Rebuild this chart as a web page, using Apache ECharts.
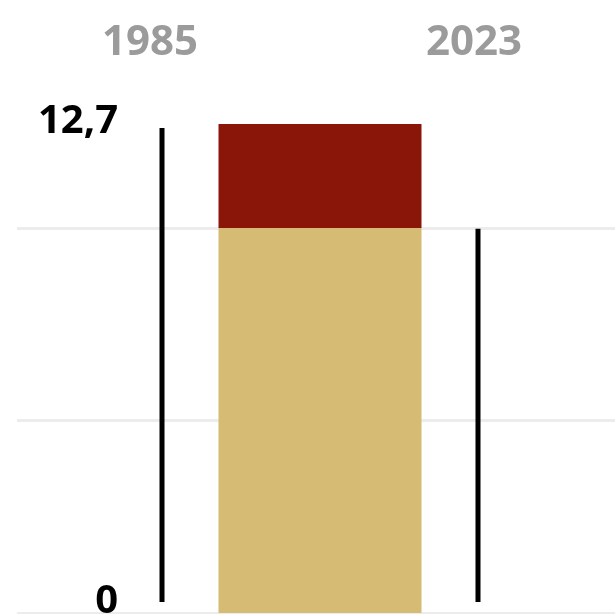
<!DOCTYPE html>
<html>
<head>
<meta charset="utf-8">
<script src="https://cdn.jsdelivr.net/npm/echarts@6/dist/echarts.min.js"></script>
<style>
  html, body { margin: 0; padding: 0; background: #fff; }
  #grafico { width: 615px; height: 614px; }
</style>
</head>
<body>
<div id="grafico"></div>
<script>
// dados
const categorias = ['1985', 'perda', '2023'];
const rotulosAnos = ['1985', '', '2023'];
const totais = [12.7, '-', 10];          // linhas pretas: valor de cada ano
const mantido = ['-', 10, '-'];          // parte que se manteve
const perdido = ['-', 2.7, '-'];         // parte perdida
const valorMax = 12.7;

const grafico = echarts.init(document.getElementById('grafico'));

const fonte = '"Open Sans", sans-serif';

const option = {
  animation: false,
  grid: [
    { left: 17, right: 0, top: 124, bottom: 1, outerBoundsMode: 'none' },   // linhas de grade
    { left: 83, right: 58, top: 124, bottom: 1, outerBoundsMode: 'none' },  // barra empilhada
    { left: 83, right: 58, top: 128, bottom: 12, outerBoundsMode: 'none' }, // linhas pretas
    { left: 69, right: 60, top: 124, bottom: 1, outerBoundsMode: 'none' }   // rótulos dos anos
  ],
  xAxis: [
    { gridIndex: 0, type: 'category', data: [''], show: false },
    { gridIndex: 1, type: 'category', data: categorias, show: false },
    { gridIndex: 2, type: 'category', data: categorias, show: false },
    {
      gridIndex: 3,
      type: 'category',
      data: rotulosAnos,
      position: 'top',
      axisLine: { show: false },
      axisTick: { show: false },
      axisLabel: {
        margin: 60,
        color: '#9b9b9b',
        fontFamily: fonte,
        fontWeight: 'bold',
        fontSize: 42
      }
    }
  ],
  yAxis: [
    {
      gridIndex: 0,
      type: 'value',
      min: 0,
      max: valorMax,
      interval: 5,
      axisLine: { show: false },
      axisTick: { show: false },
      axisLabel: { show: false },
      splitLine: {
        show: true,
        showMinLine: true,
        showMaxLine: false,
        lineStyle: { color: '#ececec', width: 3 }
      }
    },
    {
      gridIndex: 1,
      type: 'value',
      min: 0,
      max: valorMax,
      show: false
    },
    {
      gridIndex: 2,
      type: 'value',
      min: 0,
      max: valorMax,
      interval: valorMax,
      axisLine: { show: false },
      axisTick: { show: false },
      splitLine: { show: false },
      axisLabel: {
        margin: -35,
        color: '#000',
        fontFamily: fonte,
        fontWeight: 'bold',
        fontSize: 40,
        formatter: v => (v === 0 ? '{baixo|0}' : '{alto|' + String(v).replace('.', ',') + '}'),
        rich: {
          baixo: { fontFamily: fonte, fontWeight: 'bold', fontSize: 40, color: '#000' },
          alto: { fontFamily: fonte, fontWeight: 'bold', fontSize: 40, color: '#000', padding: [0, 0, 12, 0] }
        }
      }
    },
    { gridIndex: 3, type: 'value', min: 0, max: valorMax, show: false }
  ],
  series: [
    {
      name: 'mantido',
      type: 'bar',
      xAxisIndex: 1,
      yAxisIndex: 1,
      stack: 'total',
      barWidth: 203,
      data: mantido,
      itemStyle: { color: '#d6bb75' }
    },
    {
      name: 'perdido',
      type: 'bar',
      xAxisIndex: 1,
      yAxisIndex: 1,
      stack: 'total',
      barWidth: 203,
      data: perdido,
      itemStyle: { color: '#8a1609' }
    },
    {
      name: 'total',
      type: 'bar',
      xAxisIndex: 2,
      yAxisIndex: 2,
      barWidth: 5,
      data: totais,
      itemStyle: { color: '#000' }
    }
  ]
};

grafico.setOption(option);
window.addEventListener('resize', () => grafico.resize());
</script>
</body>
</html>
